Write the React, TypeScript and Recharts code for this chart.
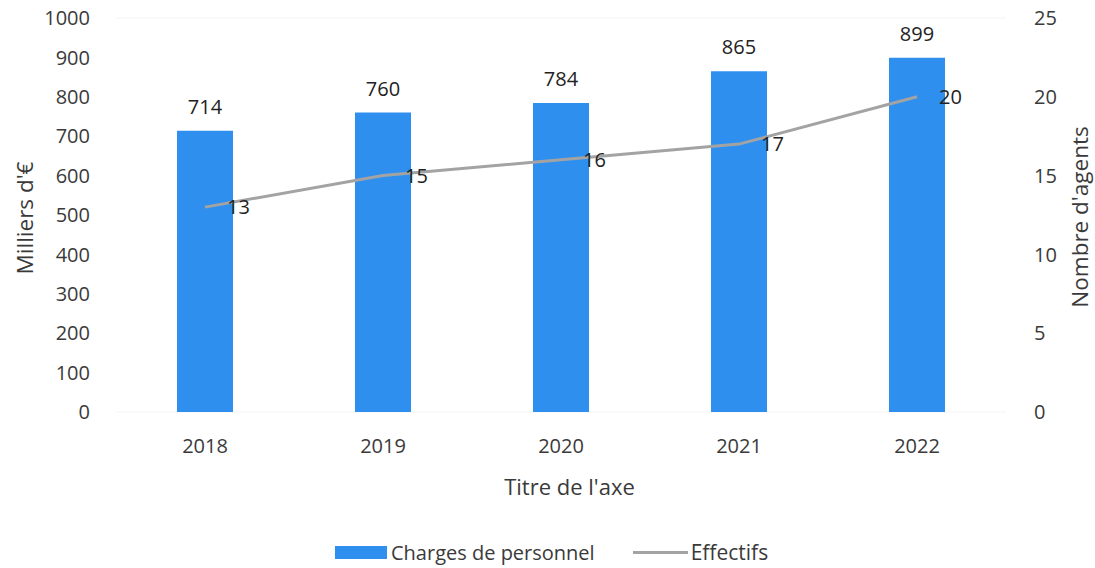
import React from "react";
import {
  ComposedChart,
  Bar,
  Line,
  XAxis,
  YAxis,
  CartesianGrid,
  LabelList,
} from "recharts";

const years = ["2018", "2019", "2020", "2021", "2022"];
const charges = [714, 760, 784, 865, 899];
const effectifs = [13, 15, 16, 17, 20];
const leftTicks = [0, 100, 200, 300, 400, 500, 600, 700, 800, 900, 1000];
const rightTicks = [0, 5, 10, 15, 20, 25];

const data = years.map((y, i) => ({ year: y, charges: charges[i], effectifs: effectifs[i] }));

const FONT = "'Open Sans', 'DejaVu Sans', sans-serif";
const BLUE = "#2F8FEF";
const GRAY = "#A3A3A3";
const TEXT = "#3A3A3A";

const LineLabel = (props: any) => {
  const { x, y, value } = props;
  return (
    <text x={x + 22} y={y} dy={7} textAnchor="start" fontSize={20} fill="#222" fontFamily={FONT}>
      {value}
    </text>
  );
};

const BarLabel = (props: any) => {
  const { x, y, width, value } = props;
  return (
    <text x={x + width / 2} y={y - 17} textAnchor="middle" fontSize={20} fill="#222" fontFamily={FONT}>
      {value}
    </text>
  );
};

export default function App() {
  return (
    <div style={{ position: "relative", width: 1095, height: 568, fontFamily: FONT }}>
      <style>{`body{margin:0}`}</style>
      <ComposedChart
        width={1095}
        height={568}
        data={data}
        margin={{ top: 18, right: 29, bottom: 96, left: 56 }}
      >
        <CartesianGrid vertical={false} stroke="#F4F4F4" />
        <XAxis
          dataKey="year"
          axisLine={false}
          tickLine={false}
          tick={{ fontSize: 20, fill: TEXT, fontFamily: FONT }}
          tickMargin={21}
          height={60}
        />
        <YAxis
          yAxisId="left"
          domain={[0, 1000]}
          ticks={leftTicks}
          axisLine={false}
          tickLine={false}
          tick={{ fontSize: 20, fill: TEXT, fontFamily: FONT }}
          tickMargin={20}
          width={60}
          interval={0}
        />
        <YAxis
          yAxisId="right"
          orientation="right"
          domain={[0, 25]}
          ticks={rightTicks}
          axisLine={false}
          tickLine={false}
          tick={{ fontSize: 20, fill: TEXT, fontFamily: FONT, textAnchor: "start" }}
          tickMargin={22}
          width={60}
          interval={0}
        />
        <Bar yAxisId="left" dataKey="charges" fill={BLUE} barSize={56} isAnimationActive={false}>
          <LabelList dataKey="charges" content={BarLabel} />
        </Bar>
        <Line
          yAxisId="right"
          dataKey="effectifs"
          stroke={GRAY}
          strokeWidth={3}
          dot={false}
          isAnimationActive={false}
        >
          <LabelList dataKey="effectifs" content={LineLabel} />
        </Line>
      </ComposedChart>
      <div
        style={{
          position: "absolute",
          left: 0,
          width: 1095,
          top: 471,
          textAlign: "center",
          fontSize: 22,
          color: TEXT,
          marginLeft: 22,
        }}
      >
        Titre de l'axe
      </div>
      <div
        style={{
          position: "absolute",
          left: 24,
          top: 218,
          transform: "translate(-50%, -50%) rotate(-90deg)",
          fontSize: 22.5,
          color: TEXT,
          whiteSpace: "nowrap",
        }}
      >
        Milliers d'€
      </div>
      <div
        style={{
          position: "absolute",
          left: 1079,
          top: 217,
          transform: "translate(-50%, -50%) rotate(-90deg)",
          fontSize: 22.5,
          color: TEXT,
          whiteSpace: "nowrap",
        }}
      >
        Nombre d'agents
      </div>
      <div
        style={{
          position: "absolute",
          top: 538,
          left: 335,
          display: "flex",
          alignItems: "center",
          fontSize: 20,
          color: TEXT,
          whiteSpace: "nowrap",
        }}
      >
        <span style={{ display: "inline-block", width: 52, height: 13, background: BLUE, marginRight: 4 }} />
        <span>Charges de personnel</span>
        <span style={{ display: "inline-block", width: 55, height: 3, background: GRAY, marginLeft: 38, marginRight: 3 }} />
        <span style={{ fontSize: 21 }}>Effectifs</span>
      </div>
    </div>
  );
}
